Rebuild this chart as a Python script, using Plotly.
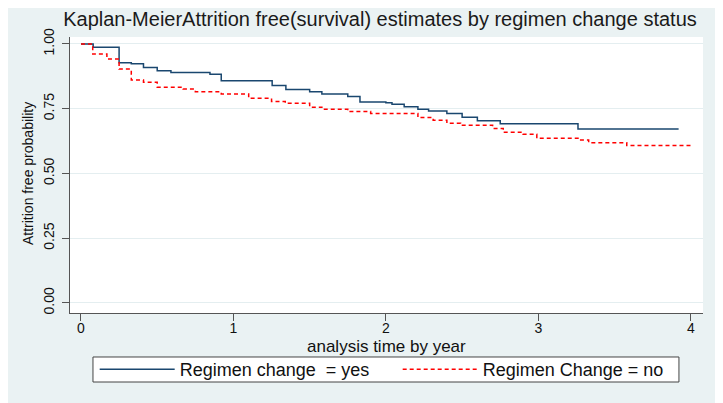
import plotly.graph_objects as go

# Kaplan-Meier step estimates
yes_time = [0, 0.08, 0.25, 0.33, 0.41, 0.50, 0.59, 0.846, 0.92, 1.254, 1.344, 1.50, 1.58,
            1.75, 1.83, 2.0, 2.04, 2.12, 2.21, 2.28, 2.40, 2.50, 2.60, 2.75, 3.26, 3.92]
yes_surv = [1.0, 0.987, 0.928, 0.924, 0.909, 0.897, 0.89, 0.883, 0.858, 0.840, 0.824, 0.816, 0.807,
            0.797, 0.776, 0.773, 0.767, 0.758, 0.748, 0.741, 0.732, 0.717, 0.704, 0.692, 0.672, 0.672]

no_time = [0, 0.077, 0.17, 0.25, 0.33, 0.41, 0.50, 0.67, 0.75, 0.92, 1.10, 1.25, 1.34, 1.50,
           1.58, 1.75, 1.90, 2.21, 2.31, 2.40, 2.49, 2.70, 2.77, 2.90, 2.99, 3.27, 3.33, 3.58, 4.0]
no_surv = [1.0, 0.961, 0.942, 0.903, 0.861, 0.852, 0.833, 0.826, 0.816, 0.807, 0.790, 0.778, 0.771, 0.756,
           0.748, 0.739, 0.732, 0.716, 0.705, 0.694, 0.686, 0.674, 0.659, 0.651, 0.636, 0.629, 0.619, 0.608, 0.608]

y_ticks = [0, 0.25, 0.5, 0.75, 1.0]
y_tick_labels = ["0.00", "0.25", "0.50", "0.75", "1.00"]
x_ticks = [0, 1, 2, 3, 4]

font = "Liberation Sans, Arial, sans-serif"

fig = go.Figure()
fig.add_trace(go.Scatter(
    x=yes_time, y=yes_surv, mode="lines", line_shape="hv",
    line=dict(color="#1a476f", width=1.5),
    name="Regimen change  = yes",
))
fig.add_trace(go.Scatter(
    x=no_time, y=no_surv, mode="lines", line_shape="hv",
    line=dict(color="#ff0000", width=1.5, dash="4px,3px"),
    name="Regimen Change = no",
))

# the page body has an 8px margin, so the figure sits 8px right/down
fig.update_layout(
    width=723, height=403,
    margin=dict(l=62, r=28, t=29, b=98, autoexpand=False),
    paper_bgcolor="#eaf2f3",
    plot_bgcolor="white",
    font=dict(family=font, size=15, color="#111111"),
    title=dict(
        text="Kaplan-MeierAttrition free(survival) estimates by regimen change status",
        x=0.5145, xanchor="center", y=0.973, yanchor="middle",
        font=dict(size=20, color="#1a1a1a"),
    ),
    legend=dict(
        orientation="h", x=0.039, xanchor="left", y=-0.2047, yanchor="middle",
        bgcolor="rgba(0,0,0,0)", borderwidth=0,
        itemwidth=75, entrywidth=213, entrywidthmode="pixels",
        font=dict(size=18),
    ),
    showlegend=True,
    shapes=[
        # legend frame
        dict(type="rect", xref="paper", yref="paper",
             x0=0.0363, x1=0.962, y0=-0.25, y1=-0.1594,
             fillcolor="white", line=dict(color="#444444", width=1), layer="below"),
    ],
    annotations=[
        dict(text="analysis time by year", xref="paper", yref="paper",
             x=0.5, y=-0.121, xanchor="center", yanchor="middle",
             showarrow=False, font=dict(size=17)),
        dict(text="Attrition free probability", xref="paper", yref="paper",
             x=-0.0664, y=0.507, xanchor="center", yanchor="middle", textangle=-90,
             showarrow=False, font=dict(size=14)),
    ],
)
fig.update_xaxes(
    range=[-0.072, 4.08], tickvals=x_ticks, ticks="outside", ticklen=7,
    tickcolor="#555555", showline=True, linecolor="#555555", linewidth=1,
    showgrid=False, zeroline=False, automargin=False,
    tickfont=dict(size=14), ticklabelstandoff=-5,
)
fig.update_yaxes(
    range=[-0.039, 1.027], tickvals=y_ticks, ticktext=y_tick_labels, tickangle=-90,
    ticks="outside", ticklen=7, tickcolor="#555555",
    showline=True, linecolor="#555555", linewidth=1,
    showgrid=True, gridcolor="#e4eef0", gridwidth=1, zeroline=False, automargin=False,
    tickfont=dict(size=14), ticklabelstandoff=2,
)

fig.write_html("out.html")
